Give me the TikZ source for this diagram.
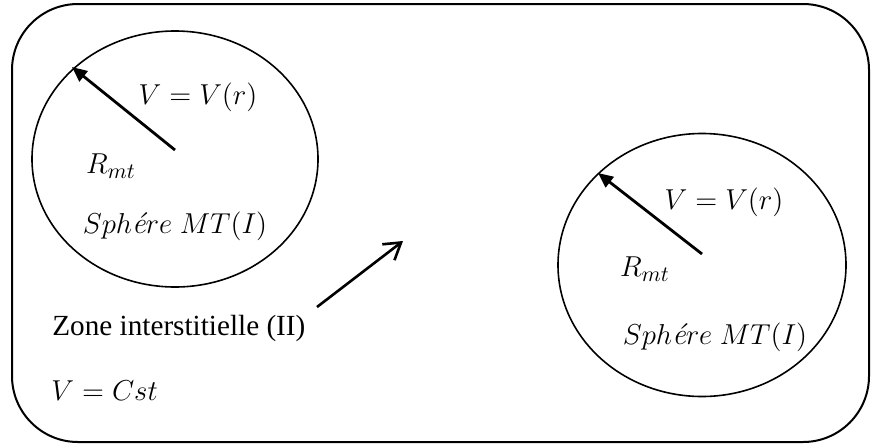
\documentclass[tikz,border=0pt]{standalone}
\usepackage{fontspec}
\setmainfont{Liberation Serif}
\newfontfamily\lmroman{Latin Modern Roman}
\usetikzlibrary{shapes.geometric,arrows.meta}
\newcommand{\eacute}{{\lmroman\itshape é}}
\begin{document}
\begin{tikzpicture}[x=0.5pt,y=-0.5pt,
  frame/.style={draw, line width=1pt, rounded corners=33pt},
  sphere/.style={draw, ellipse, line width=0.8pt, inner sep=0pt},
  radiusarrow/.style={line width=1.4pt, -{Triangle[length=7.5pt,width=6.5pt]}},
  pointer/.style={line width=1.3pt, -{Straight Barb[length=8pt,width=10pt,line width=1.3pt]}},
  mathlbl/.style={inner sep=0pt, font=\fontsize{15}{18}\selectfont},
  textlbl/.style={inner sep=0pt, font=\fontsize{14.6}{17}\selectfont}]
  \useasboundingbox (0,0) rectangle (871,445);

  % outer domain
  \draw[frame] (12,4) rectangle (869,442);

  % muffin-tin sphere (left)
  \node[sphere, minimum width=143pt, minimum height=128pt] (s1) at (175,159) {};
  \coordinate (o1) at (175,150);
  \coordinate (e1) at (72,67);
  \draw[radiusarrow] (o1) -- (e1);
  \node[mathlbl] (v1) at (198,97) {$V=V(r)$};
  \node[mathlbl] (r1) at (111,166) {$R_{mt}$};
  \node[mathlbl] (n1) at (175,226) {$Sph$\eacute$re\ MT(I)$};

  % muffin-tin sphere (right)
  \node[sphere, minimum width=144pt, minimum height=131.5pt] (s2) at (702,265) {};
  \coordinate (o2) at (702,254);
  \coordinate (e2) at (598,173);
  \draw[radiusarrow] (o2) -- (e2);
  \node[mathlbl] (v2) at (724,202) {$V=V(r)$};
  \node[mathlbl] (r2) at (645,269) {$R_{mt}$};
  \node[mathlbl] (n2) at (715,337) {$Sph$\eacute$re\ MT(I)$};

  % interstitial region
  \node[textlbl, anchor=base west] (zone) at (52,335) {Zone interstitielle (II)};
  \node[mathlbl, anchor=base west] (cst) at (51,400) {$V=Cst$};
  \coordinate (za) at (317,307);
  \coordinate (zb) at (403,241);
  \draw[pointer] (za) -- (zb);
\end{tikzpicture}
\end{document}
